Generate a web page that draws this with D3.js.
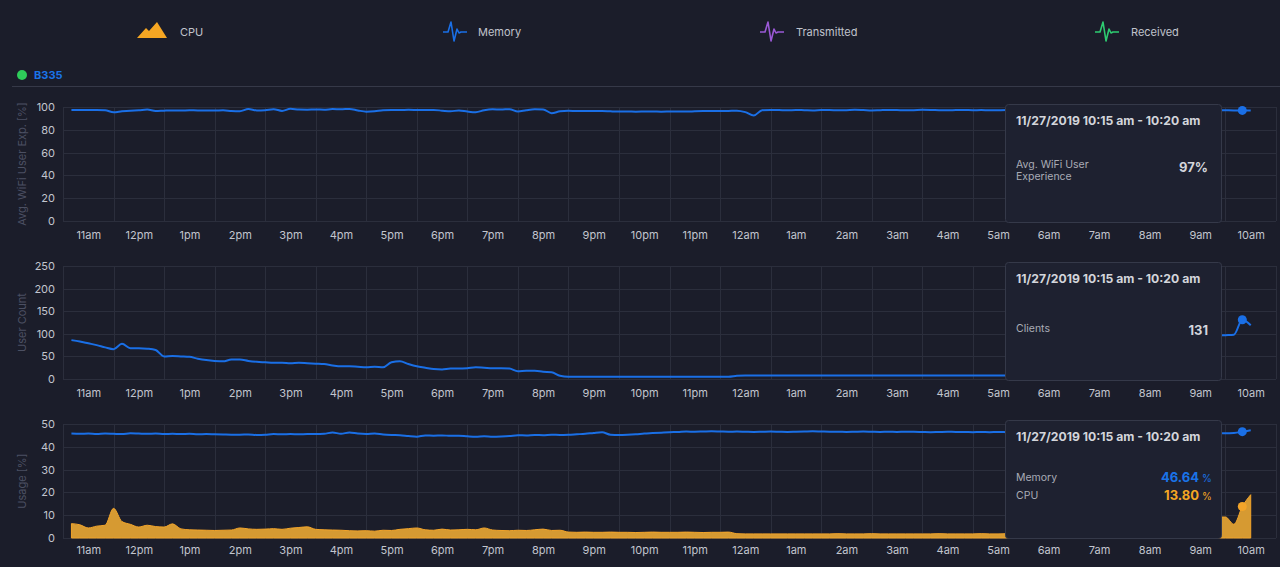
<!DOCTYPE html>
<html>
<head>
<meta charset="utf-8">
<script src="https://cdn.jsdelivr.net/npm/d3@7"></script>
<style>
body { margin: 0; background: #1b1d2a; overflow: hidden; }
svg text { font-family: Inter, "Noto Sans", sans-serif; }
</style>
</head>
<body>
<svg id="chart" width="1280" height="567"></svg>
<script>
//Values, one point every 10 minutes starting 11/26 11:10 am
var startTime = new Date(2019, 10, 26, 11, 10);
var stepMinutes = 10;

var wifiVals = [
	97.4, 97.4, 97.3, 97.4, 97.2, 95.4, 96.2, 96.8, 97.1, 97.7,
	96.5, 96.8, 97, 96.9, 97.1, 97, 97, 96.9, 97.1, 96.5,
	96.3, 98.2, 97, 97.2, 98, 96.6, 98.4, 97.7, 97.6, 97.8,
	97.6, 98.2, 98, 98.3, 97, 95.9, 96.2, 97.2, 97.4, 97.3,
	97.5, 97.4, 97.3, 97.4, 96.8, 96.2, 97, 96, 95.4, 97.2,
	98, 97.8, 98.1, 96, 97.2, 98, 97.9, 94.6, 96.2, 96.7,
	96.5, 96.6, 96.4, 96.5, 96.2, 96, 96.1, 95.9, 96, 96.1,
	95.9, 96, 96.1, 96, 96.2, 96.4, 96.6, 96.5, 96.6, 96.8,
	95.5, 92.5, 97.2, 97.4, 97.3, 97.1, 97.4, 97.2, 97, 97.3,
	97.4, 97.1, 97.2, 97.5, 97.3, 97, 97.2, 97.4, 97.3, 97.1,
	97.2, 97.5, 97.4, 97.2, 97.1, 97.3, 97.4, 97.2, 97.3, 97.1,
	97.2, 97.3, 97.1, 97.4, 97.2, 97, 97.3, 97.5, 97.2, 97.1,
	97.3, 97.4, 97, 97.2, 97.3, 97.1, 97.2, 97.4, 97.3, 97,
	97.2, 97.1, 97.3, 97.2, 97, 97.1, 97.2, 97.1, 97, 97,
	96.9
];

var userVals = [
	86, 83, 79, 75, 70, 66, 78, 68, 68, 67,
	64, 50, 51, 50, 49, 45, 42, 40, 39, 43,
	43, 40, 38, 37, 36, 36, 35, 36, 35, 34,
	33, 30, 28, 28, 27, 26, 27, 26, 37, 39,
	33, 28, 25, 22, 21, 23, 23, 24, 26, 25,
	24, 24, 23, 17, 18, 18, 16, 15, 7, 5,
	5, 5, 5, 5, 5, 5, 5, 5, 5, 5,
	5, 5, 5, 5, 5, 5, 5, 5, 5, 7,
	8, 8, 8, 8, 8, 8, 8, 8, 8, 8,
	8, 8, 8, 8, 8, 8, 8, 8, 8, 8,
	8, 8, 8, 8, 8, 8, 8, 8, 8, 8,
	8, 8, 8, 9, 9, 10, 12, 14, 18, 22,
	28, 34, 40, 46, 52, 58, 64, 70, 76, 82,
	86, 90, 92, 94, 95, 96, 96, 97, 98, 131,
	119
];

var memVals = [
	45.8, 45.7, 45.8, 45.6, 45.8, 45.7, 45.6, 45.9, 45.8, 45.7,
	45.8, 45.6, 45.7, 45.6, 45.7, 45.5, 45.6, 45.5, 45.4, 45.3,
	45.3, 45.4, 45.2, 45.3, 45.6, 45.5, 45.6, 45.5, 45.6, 45.6,
	45.7, 46.3, 45.7, 46.3, 45.8, 45.6, 45.8, 45.4, 45.2, 45.1,
	44.7, 44.4, 45, 44.9, 45, 44.8, 44.9, 44.6, 44.4, 44.6,
	44.4, 44.5, 44.7, 45.1, 45, 45.2, 45.1, 45.3, 45.2, 45.3,
	45.5, 45.7, 46.1, 46.4, 45.3, 45.2, 45.3, 45.5, 45.8, 46,
	46.2, 46.4, 46.5, 46.7, 46.6, 46.7, 46.8, 46.7, 46.6, 46.7,
	46.6, 46.5, 46.6, 46.7, 46.6, 46.5, 46.6, 46.7, 46.8, 46.7,
	46.6, 46.6, 46.5, 46.6, 46.7, 46.6, 46.5, 46.6, 46.5, 46.6,
	46.6, 46.5, 46.4, 46.5, 46.6, 46.5, 46.5, 46.4, 46.5, 46.4,
	46.5, 46.4, 46.3, 46.4, 46.3, 46.2, 46.3, 46.2, 46.1, 46.2,
	46.1, 46, 46.1, 46, 45.9, 46, 45.9, 46, 45.8, 45.9,
	45.9, 45.8, 45.9, 46, 45.9, 45.8, 45.9, 45.9, 46.1, 46.64,
	47.3
];

var cpuVals = [
	6.3, 5.8, 4.4, 5.2, 5.6, 13, 7.2, 6, 4.8, 5.6,
	5, 4.8, 6.2, 4, 3.6, 3.5, 3.4, 3.3, 3.4, 3.5,
	4.4, 4, 3.8, 3.9, 4.1, 3.8, 4.3, 4.6, 4.9, 3.8,
	3.6, 3.5, 3.4, 3.2, 3.1, 3.2, 3, 3.4, 3.3, 3.8,
	4.1, 4.4, 3.6, 3.4, 3.9, 3.5, 3.6, 3.8, 3.6, 4.4,
	3.5, 3.3, 3.2, 3.4, 3.3, 3.6, 3.9, 3.3, 3.4, 2.6,
	2.5, 2.6, 2.5, 2.5, 2.6, 2.5, 2.5, 2.4, 2.5, 2.6,
	2.5, 2.5, 2.5, 2.6, 2.5, 2.4, 2.5, 2.5, 2.6, 1.9,
	1.8, 1.8, 1.8, 1.8, 1.8, 1.8, 1.8, 1.8, 1.8, 1.8,
	1.8, 1.9, 1.8, 1.8, 1.8, 1.9, 1.8, 1.8, 1.8, 1.8,
	1.8, 1.8, 1.8, 1.9, 1.8, 1.8, 1.8, 1.8, 1.9, 1.8,
	1.8, 1.9, 2, 2.1, 2.3, 2.5, 2.8, 3, 3.4, 3.8,
	4.2, 4.6, 5, 5.5, 6, 6.5, 7, 7.4, 7.8, 8.2,
	8.5, 8.8, 9, 9.2, 9.3, 9.4, 9.2, 9.2, 6, 13.8,
	19
];

//Index of the hovered point (10:15 - 10:20 am)
var hoverIndex = 139;

var wifiTicks = [0, 20, 40, 60, 80, 100];
var userTicks = [0, 50, 100, 150, 200, 250];
var usageTicks = [0, 10, 20, 30, 40, 50];

var legendNames = ["CPU", "Memory", "Transmitted", "Received"];
var legendColors = ["#f5a623", "#1a6fe6", "#9b59d6", "#2ecc71"];

var tooltipTitle = "11/27/2019 10:15 am - 10:20 am";

//Colours
var blue = "#1a6fe6";
var orange = "#f2a42a";
var gridColor = "#2b2e3c";
var tickColor = "#c2c5ce";

var svg = d3.select("#chart");

var times = wifiVals.map(function(d, i){ return d3.timeMinute.offset(startTime, i * stepMinutes); });

//X scale, one band per hour, label in the middle of the band
var x = d3.scaleTime()
	.domain([new Date(2019, 10, 26, 11), new Date(2019, 10, 27, 11)])
	.range([63, 1276]);

var hours = d3.timeHour.range(x.domain()[0], x.domain()[1]);
var hourFormat = d3.timeFormat("%-I%p");

//Legend
var legendX = [137, 443, 760, 1095];
var legendTextX = [180, 478, 796, 1131];
var legend = svg.append("g");
legendNames.forEach(function(name, i)
{
	if(i == 0)
	{
		legend.append("path")
			.attr("d", "M0,16 L9,6 L12,9 L20,0 L30,16 Z")
			.attr("transform", "translate(" + legendX[i] + ",22)")
			.attr("fill", legendColors[i]);
	}
	else
	{
		legend.append("path")
			.attr("d", "M0,0 H5 L8,-10 L11,9 L14,-3 L16,1 L18,0 H24")
			.attr("transform", "translate(" + legendX[i] + ",32)")
			.attr("fill", "none")
			.attr("stroke", legendColors[i])
			.attr("stroke-width", 1.6)
			.attr("stroke-linejoin", "round");
	}
	legend.append("text")
		.attr("x", legendTextX[i])
		.attr("y", 36)
		.style("font-size", "11px")
		.style("fill", "#c0c3cc")
		.text(name);
});

//Device header
svg.append("circle").attr("cx", 22).attr("cy", 75).attr("r", 5).attr("fill", "#2ecc5a");
svg.append("text")
	.attr("x", 34).attr("y", 79)
	.style("font-size", "11px")
	.style("font-weight", "bold")
	.style("fill", "#1a73e8")
	.text("B335");
svg.append("line")
	.attr("x1", 12).attr("x2", 1280)
	.attr("y1", 86.5).attr("y2", 86.5)
	.attr("stroke", "#363948");

var panels = [
	{top: 107, bottom: 221, ticks: wifiTicks, title: "Avg. WiFi User Exp. [%]", pad: 10},
	{top: 266, bottom: 379, ticks: userTicks, title: "User Count", pad: 10},
	{top: 424, bottom: 538, ticks: usageTicks, title: "Usage [%]", pad: 8}
];

function drawPanel(p)
{
	var g = svg.append("g");
	var y = d3.scaleLinear()
		.domain([0, p.ticks[p.ticks.length - 1]])
		.range([p.bottom, p.top]);

	//Horizontal grid
	g.selectAll(".hgrid")
		.data(p.ticks)
		.enter().append("line")
		.attr("x1", x.range()[0]).attr("x2", x.range()[1])
		.attr("y1", function(d){ return Math.round(y(d)) + 0.5; })
		.attr("y2", function(d){ return Math.round(y(d)) + 0.5; })
		.attr("stroke", gridColor);

	//Vertical grid on each hour
	g.selectAll(".vgrid")
		.data(hours.concat([x.domain()[1]]))
		.enter().append("line")
		.attr("x1", function(d){ return Math.round(x(d)) + 0.5; })
		.attr("x2", function(d){ return Math.round(x(d)) + 0.5; })
		.attr("y1", p.top).attr("y2", p.bottom)
		.attr("stroke", gridColor);

	//Y axis
	var yAxis = g.append("g")
		.attr("transform", "translate(" + x.range()[0] + ",0)")
		.call(d3.axisLeft(y).tickValues(p.ticks).tickSize(0).tickPadding(8));
	yAxis.select(".domain").remove();
	yAxis.selectAll("text")
		.style("font-size", "11px")
		.style("font-family", "Inter, sans-serif")
		.style("fill", tickColor);

	//X axis, labels in the middle of each hour band
	var xAxis = g.append("g")
		.attr("transform", "translate(0," + p.bottom + ")")
		.call(d3.axisBottom(x)
			.tickValues(hours.map(function(h){ return d3.timeMinute.offset(h, 30); }))
			.tickSize(0)
			.tickPadding(p.pad)
			.tickFormat(function(d){ return hourFormat(d3.timeHour.floor(d)).toLowerCase(); }));
	xAxis.select(".domain").remove();
	xAxis.selectAll("text")
		.style("font-size", "11px")
		.style("font-family", "Inter, sans-serif")
		.style("fill", tickColor);

	//Axis title
	g.append("text")
		.attr("transform", "rotate(-90)")
		.attr("x", -(p.top + p.bottom) / 2)
		.attr("y", 22)
		.attr("dy", "0.35em")
		.style("text-anchor", "middle")
		.style("font-size", "11px")
		.style("fill", "#4c5063")
		.text(p.title);

	return {g: g, y: y};
}

var p1 = drawPanel(panels[0]);
var p2 = drawPanel(panels[1]);
var p3 = drawPanel(panels[2]);

function drawLine(panel, vals, color)
{
	var line = d3.line()
		.x(function(d, i){ return x(times[i]); })
		.y(function(d){ return panel.y(d); })
		.curve(d3.curveMonotoneX);
	panel.g.append("path")
		.datum(vals)
		.attr("fill", "none")
		.attr("stroke", color)
		.attr("stroke-width", 2)
		.attr("d", line);
}

//CPU area first so memory sits above it
var cpuArea = d3.area()
	.x(function(d, i){ return x(times[i]); })
	.y0(p3.y(0))
	.y1(function(d){ return p3.y(d); })
	.curve(d3.curveMonotoneX);
p3.g.append("path")
	.datum(cpuVals)
	.attr("fill", "#d69a32")
	.attr("stroke", orange)
	.attr("stroke-width", 1)
	.attr("d", cpuArea);

drawLine(p1, wifiVals, blue);
drawLine(p2, userVals, blue);
drawLine(p3, memVals, blue);

//Hover dots
function drawDot(panel, vals, color)
{
	panel.g.append("circle")
		.attr("cx", x(times[hoverIndex]))
		.attr("cy", panel.y(vals[hoverIndex]))
		.attr("r", 4.5)
		.attr("fill", color);
}
drawDot(p1, wifiVals, blue);
drawDot(p2, userVals, blue);
drawDot(p3, memVals, blue);
drawDot(p3, cpuVals, orange);

//Tooltips
function drawTooltip(top, rows)
{
	var t = svg.append("g").attr("transform", "translate(1005," + top + ")");
	t.append("rect")
		.attr("x", 0.5).attr("y", 0.5)
		.attr("width", 216).attr("height", 118)
		.attr("rx", 3)
		.attr("fill", "#1e2130")
		.attr("stroke", "#353949");
	t.append("text")
		.attr("x", 11).attr("y", 21)
		.style("font-size", "12.2px")
		.style("font-weight", "bold")
		.style("fill", "#d3d5db")
		.text(tooltipTitle);
	rows.forEach(function(r)
	{
		var label = t.append("text")
			.attr("x", 11).attr("y", r.y)
			.style("font-size", "10.5px")
			.style("fill", "#a9acb6");
		r.label.forEach(function(s, k)
		{
			label.append("tspan").attr("x", 11).attr("dy", k == 0 ? 0 : 12).text(s);
		});
		var v = t.append("text")
			.attr("x", r.unit ? 194 : 203).attr("y", r.vy)
			.style("text-anchor", "end")
			.style("font-size", "13px")
			.style("font-weight", "bold")
			.style("fill", r.color)
			.text(r.value);
		if(r.unit)
		{
			t.append("text")
				.attr("x", 197).attr("y", r.vy)
				.style("font-size", "10px")
				.style("fill", r.color)
				.text(r.unit);
		}
	});
}

drawTooltip(104, [
	{label: ["Avg. WiFi User", "Experience"], y: 64, vy: 68, value: Math.round(wifiVals[hoverIndex]) + "%", color: "#d3d5db"}
]);
drawTooltip(262, [
	{label: ["Clients"], y: 70, vy: 73, value: userVals[hoverIndex], color: "#d3d5db"}
]);
drawTooltip(420, [
	{label: ["Memory"], y: 61, vy: 62, value: memVals[hoverIndex].toFixed(2), unit: "%", color: "#1a73e8"},
	{label: ["CPU"], y: 79, vy: 80, value: cpuVals[hoverIndex].toFixed(2), unit: "%", color: "#f5a623"}
]);
</script>
</body>
</html>
